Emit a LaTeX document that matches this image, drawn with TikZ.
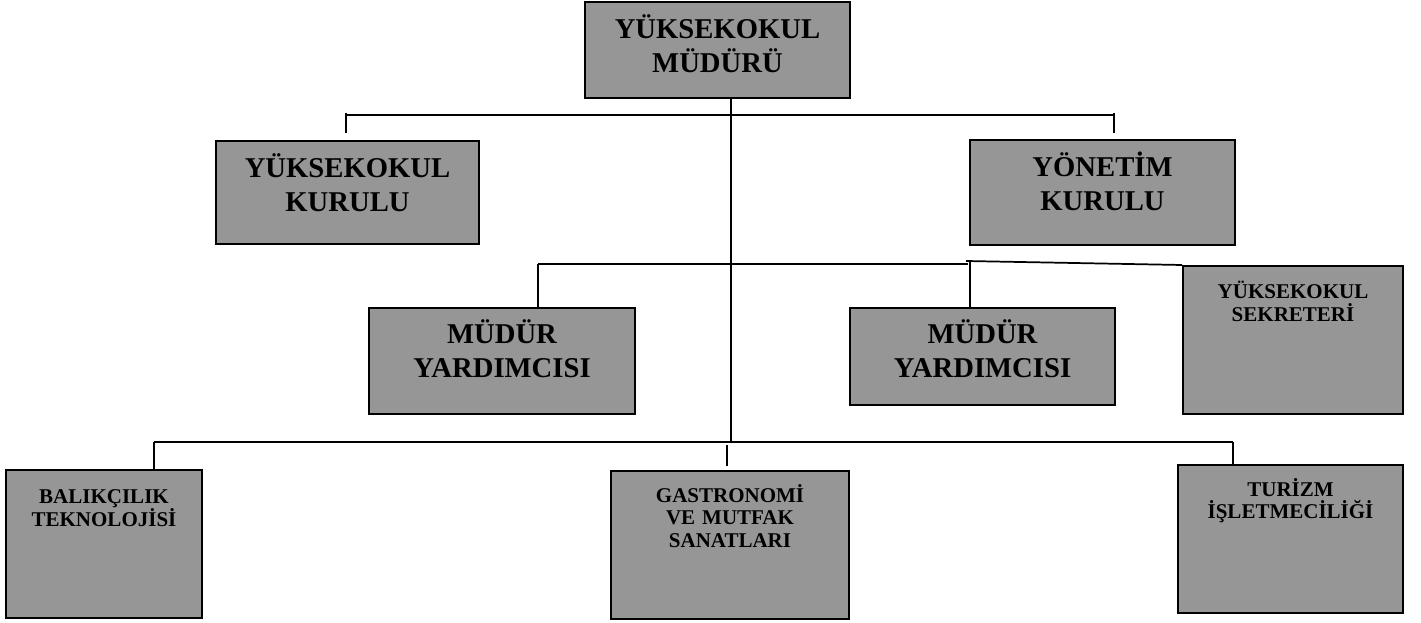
\documentclass[tikz,border=0pt]{standalone}
\usepackage{fontspec}
\setmainfont{Liberation Serif}
\definecolor{boxgray}{RGB}{150,150,150}
\begin{document}
\begin{tikzpicture}[x=0.75pt,y=-0.75pt,
	unitbox/.style={draw=black,line width=1.5pt,fill=boxgray,inner sep=0pt},
	bigtext/.style={anchor=base,inner sep=0pt,yshift=-28.5pt,text width=190pt,align=center,font=\fontsize{21.5}{25.5}\selectfont\bfseries},
	smalltext/.style={anchor=base,inner sep=0pt,text width=#1,align=center,font=\fontsize{15.75}{17}\selectfont\bfseries},
	bus/.style={line width=1.3pt}]
		\useasboundingbox (0,0) rectangle (1421,623);

		% top
		\node[unitbox,minimum width=198.75pt,minimum height=72pt,
			label={[bigtext]north:YÜKSEKOKUL\\MÜDÜRÜ}] (mudur) at (717.5,50) {};

		% boards
		\node[unitbox,minimum width=197.25pt,minimum height=77.25pt,
			label={[bigtext]north:YÜKSEKOKUL\\KURULU}] (kurul) at (347.5,192.5) {};
		\node[unitbox,minimum width=198.75pt,minimum height=78.75pt,
			label={[bigtext]north:YÖNETİM\\KURULU}] (yonetim) at (1102.5,192.5) {};

		% deputies and secretary
		\node[unitbox,minimum width=199.5pt,minimum height=79.5pt,
			label={[bigtext,yshift=0.75pt]north:MÜDÜR\\YARDIMCISI}] (yardsol) at (502,361) {};
		\node[unitbox,minimum width=198.75pt,minimum height=72.75pt,
			label={[bigtext,yshift=0.75pt]north:MÜDÜR\\YARDIMCISI}] (yardsag) at (982.5,356.5) {};
		\node[unitbox,minimum width=165pt,minimum height=111pt,
			label={[smalltext=160pt,yshift=-25.5pt]north:YÜKSEKOKUL\\SEKRETERİ}] (sekreter) at (1293,340) {};

		% departments
		\node[unitbox,minimum width=147pt,minimum height=111pt,
			label={[smalltext=145pt,yshift=-26pt]north:BALIKÇILIK\\TEKNOLOJİSİ}] (balik) at (104,544) {};
		\node[unitbox,minimum width=178.5pt,minimum height=111pt,
			label={[smalltext=170pt,yshift=-24pt]north:GASTRONOMİ\\VE MUTFAK\\SANATLARI}] (gastro) at (730,545) {};
		\node[unitbox,minimum width=168.75pt,minimum height=111pt,
			label={[smalltext=165pt,yshift=-24pt]north:TURİZM\\İŞLETMECİLİĞİ}] (turizm) at (1290.5,539) {};

		% bus lines
		\coordinate (b1l) at (346,115);
		\coordinate (b1r) at (1114,115);
		\coordinate (b2l) at (538,264);
		\coordinate (b2r) at (968,264);
		\coordinate (b2k) at (970,261);
		\coordinate (b3l) at (154,442);
		\coordinate (b3r) at (1233,442);
		\coordinate (b3m) at (731,442);
		\coordinate (b3g) at (727,442);

		\draw[bus] (mudur.south -| b3m) -- (b3m);

		\draw[bus] (b1l) -- (b1r);
		\draw[bus,shorten <=-1.5pt,shorten >=5.25pt] (b1l) -- (b1l |- kurul.north);
		\draw[bus,shorten <=-1.5pt,shorten >=4.5pt] (b1r) -- (b1r |- yonetim.north);

		\draw[bus] (b2l) -- (b2r);
		\draw[bus] (b2l) -- (b2l |- yardsol.north);
		\draw[bus] (b2k) -- (b2k |- yardsag.north);
		\draw[bus] ([xshift=-3pt]b2k) -- (sekreter.north west);

		\draw[bus] (b3l) -- (b3r);
		\draw[bus] (b3l) -- (b3l |- balik.north);
		\draw[bus] (b3r) -- (b3r |- turizm.north);
		\draw[bus,shorten <=2.25pt,shorten >=3pt] (b3g) -- (b3g |- gastro.north);
	\end{tikzpicture}
\end{document}
